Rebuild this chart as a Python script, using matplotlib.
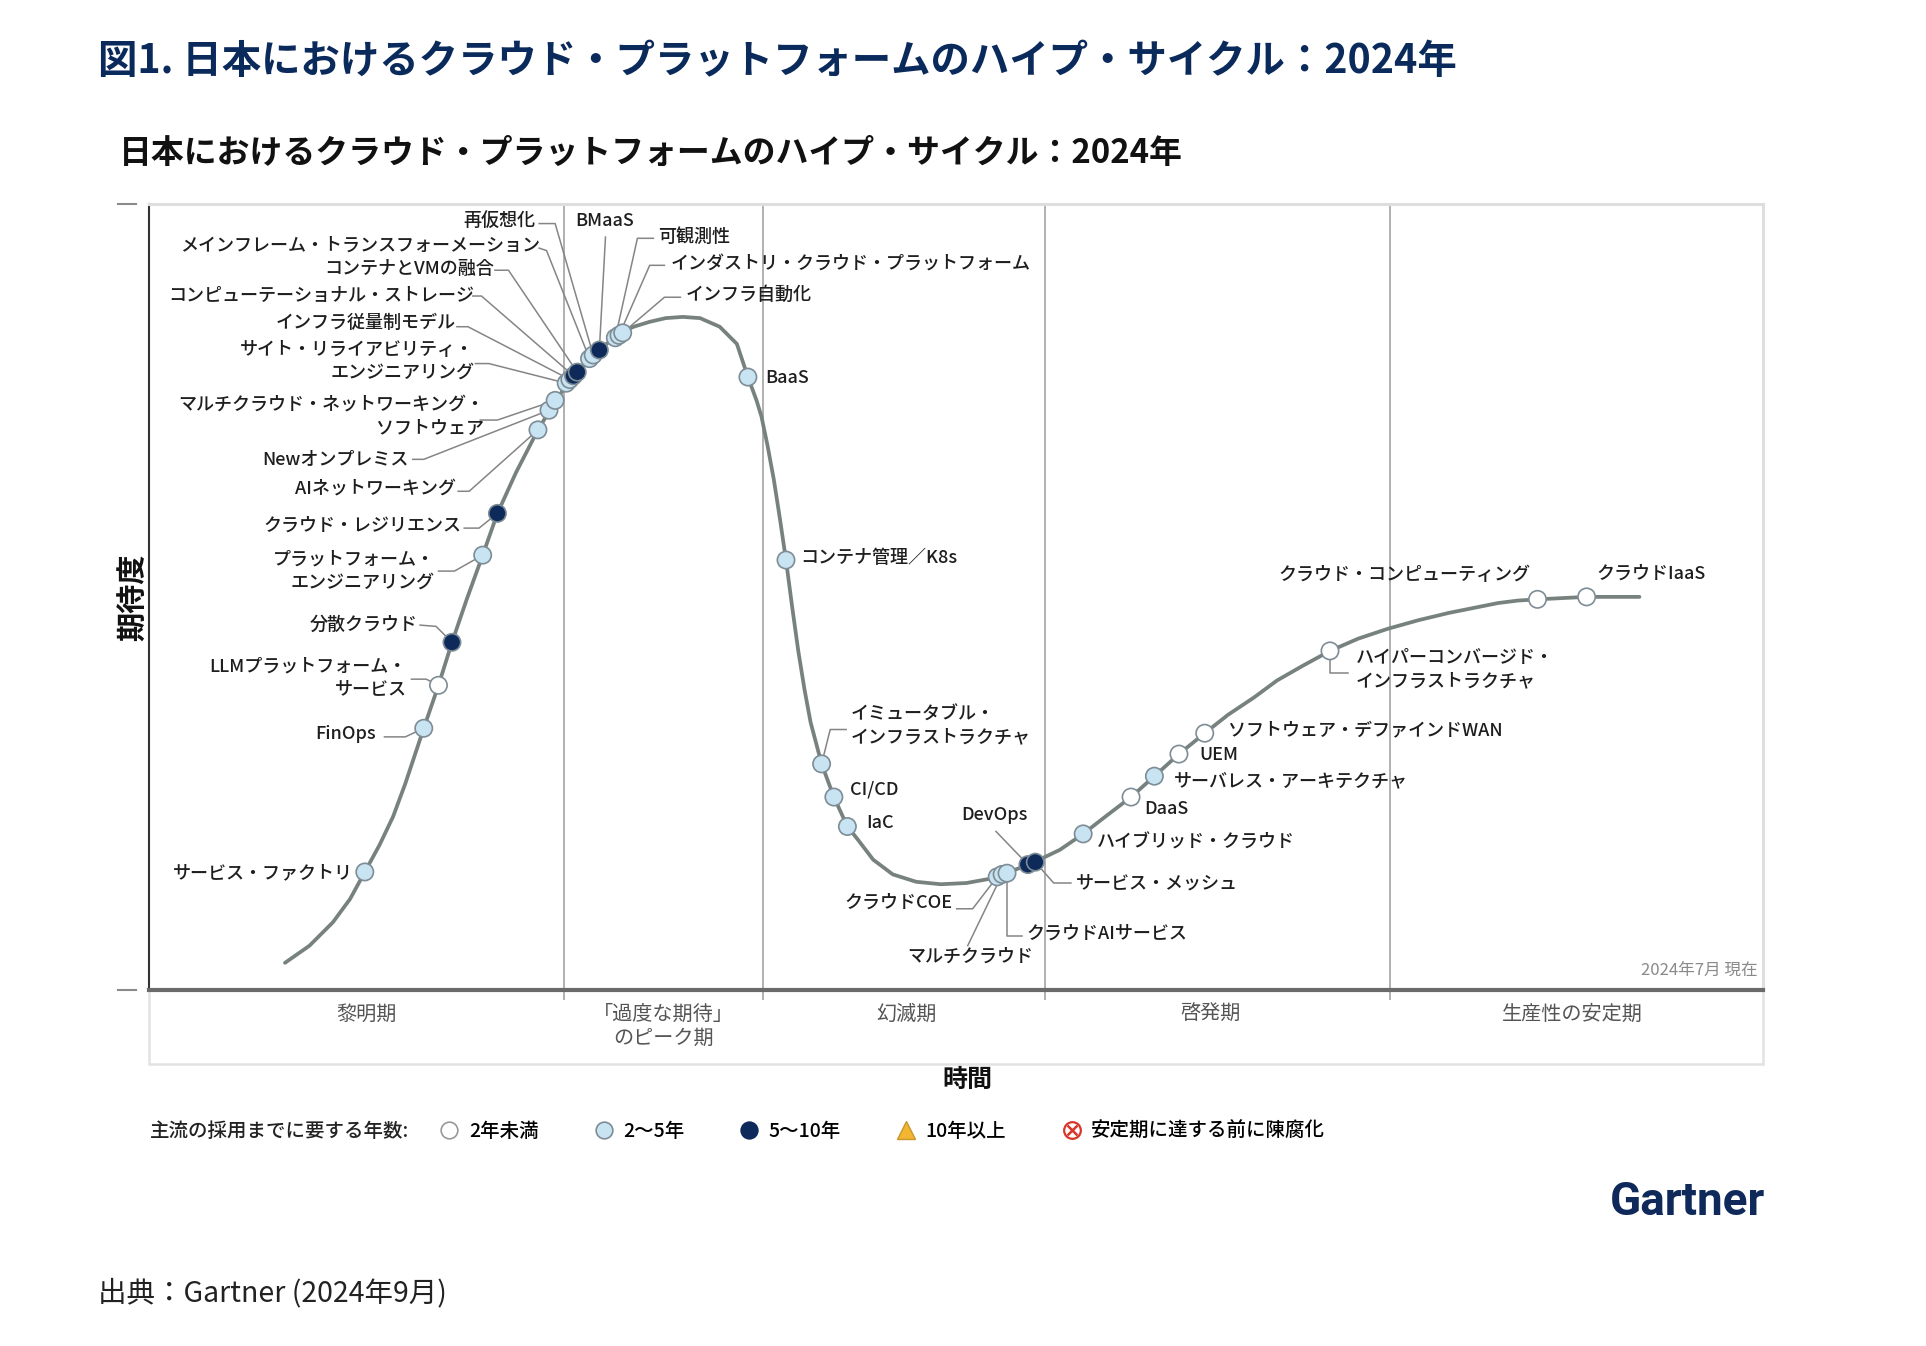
import matplotlib
matplotlib.use("Agg")
import matplotlib.pyplot as plt
from matplotlib.lines import Line2D
from matplotlib.patches import Rectangle

plt.rcParams['font.family'] = ['Noto Sans CJK JP', 'DejaVu Sans']

# hype curve: time vs expectation (arbitrary units)
curve_t = [111, 131, 150, 164, 176, 188, 199, 209, 224, 236, 247, 259, 272, 284, 299, 317,
           328, 341, 349, 362, 374, 386, 395, 408, 421, 435, 449, 465, 479, 488, 495, 499,
           504, 509, 514, 519, 524, 529, 534, 539, 548, 558, 569, 577, 590, 606, 625, 645,
           666, 688, 695, 717, 742, 761, 779, 800, 819, 839, 860, 879, 900, 919, 940, 962,
           985, 1009, 1034, 1059, 1079, 1099, 1115, 1131, 1151, 1171, 1214]
curve_e = [22, 36, 55, 74, 96, 118, 141, 168, 213, 248, 283, 318, 354, 388, 421, 456,
           474, 494, 503, 517, 527, 536, 540, 544, 547, 548, 547, 540, 526, 499, 480, 467,
           443, 416, 384, 350, 312, 276, 245, 218, 184, 157, 133, 123, 106, 94, 88, 86,
           87, 91, 94, 102, 114, 127, 141, 157, 174, 192, 209, 224, 238, 252, 264, 276,
           286, 294, 301, 307, 311, 315, 317, 318, 319, 320, 320]

# technologies on the curve
tech_names = [
    'サービス・ファクトリ', 'FinOps', 'LLMプラットフォーム・\nサービス', '分散クラウド',
    'プラットフォーム・\nエンジニアリング', 'クラウド・レジリエンス', 'AIネットワーキング',
    'Newオンプレミス', 'マルチクラウド・ネットワーキング・\nソフトウェア',
    'サイト・リライアビリティ・\nエンジニアリング', 'インフラ従量制モデル',
    'コンピューテーショナル・ストレージ', 'コンテナとVMの融合',
    'メインフレーム・トランスフォーメーション', '再仮想化', 'BMaaS', '可観測性',
    'インダストリ・クラウド・プラットフォーム', 'インフラ自動化', 'BaaS', 'コンテナ管理／K8s',
    'イミュータブル・\nインフラストラクチャ', 'CI/CD', 'IaC', 'クラウドCOE', 'マルチクラウド',
    'クラウドAIサービス', 'DevOps', 'サービス・メッシュ', 'ハイブリッド・クラウド', 'DaaS',
    'サーバレス・アーキテクチャ', 'UEM', 'ソフトウェア・デファインドWAN',
    'ハイパーコンバージド・\nインフラストラクチャ', 'クラウド・コンピューティング', 'クラウドIaaS',
]
tech_t = [176, 224, 236, 247, 272, 284, 317, 326, 331, 340, 343, 346, 349, 359, 362, 367, 380,
          383, 386, 488, 519, 548, 558, 569, 691, 695, 699, 716, 722, 761, 800, 819, 839, 860,
          962, 1131, 1171]
tech_e = [96, 213, 248, 283, 354, 388, 456, 472, 480, 494, 497, 500, 503, 514, 517, 521, 531,
          533, 535, 499, 350, 184, 157, 133, 92, 94, 95, 102, 104, 127, 157, 174, 192, 209,
          276, 318, 320]
tech_years = ['2-5', '2-5', '<2', '5-10', '2-5', '5-10', '2-5', '2-5', '2-5', '2-5', '2-5',
              '5-10', '5-10', '2-5', '2-5', '5-10', '2-5', '2-5', '2-5', '2-5', '2-5', '2-5',
              '2-5', '2-5', '2-5', '2-5', '2-5', '5-10', '5-10', '2-5', '<2', '2-5', '<2', '<2',
              '<2', '<2', '<2']

phase_names = ['黎明期', '「過度な期待」\nのピーク期', '幻滅期', '啓発期', '生産性の安定期']

legend_labels = ['2年未満', '2～5年', '5～10年', '10年以上', '安定期に達する前に陳腐化']

# layout of the labels: text anchor, alignment, leader start and elbow
label_pos = [(166, 95), (185, 208), (210, 254), (219, 297), (233, 341), (255, 378), (250, 408),
             (212, 432), (273, 467), (265, 512), (250, 543), (265, 565), (281, 587), (319, 606),
             (315, 626), (347, 626), (415, 613), (425, 591), (437, 566), (502, 498), (531, 352),
             (572, 215), (571, 163), (584, 136), (655, 71), (669, 27), (715, 46), (689, 142),
             (755, 87), (772, 120), (811, 147), (835, 170), (856, 191), (879, 211), (983, 261),
             (1125, 338), (1179, 339)]
label_ha = ['right'] * 15 + ['left'] * 9 + ['right', 'center', 'left', 'center'] + ['left'] * 7 + ['right', 'left']
leaders = [None, [(192, 206), (209, 206)], [(214, 253), (226, 253)], [(221, 297), (234, 296)],
           [(236, 341), (249, 341)], [(257, 376), (269, 376)], [(252, 406), (261, 406)],
           [(215, 432), (224, 432)], [(270, 464), (284, 464)], [(266, 510), (277, 510)],
           [(251, 540), (260, 540)], [(264, 565), (271, 565)], [(282, 586), (293, 586)],
           [(318, 604), (324, 602)], [(318, 624), (331, 624)], [(372, 613)],
           [(411, 612), (398, 612)], [(420, 590), (408, 590)], [(433, 564), (420, 564)],
           None, None, [(568, 212), (555, 212)], None, None,
           [(658, 66), (671, 66)], [(667, 36)], [(711, 44), (699, 44)], [(690, 129)],
           [(751, 87), (737, 87)], None, None, None, None, None,
           [(977, 258), (962, 258)], None, None]
phase_bounds = [338, 500, 730, 1011]
phase_centers = [177, 419, 617, 865, 1159]

fill = {'<2': 'white', '2-5': '#c8e3f2', '5-10': '#0d2a5a'}
edge = '#7d8c95'

fig = plt.figure(figsize=(19.26, 13.46), dpi=100)
ax = fig.add_axes([0.0772, 0.2646, 0.8384, 0.5839])
ax.set_xlim(0, 1315)
ax.set_ylim(0, 640)
ax.set_xticks([])
ax.set_yticks([])
for s in ['top', 'right']:
    ax.spines[s].set_color('#dedede')
    ax.spines[s].set_linewidth(2.2)
ax.spines['left'].set_color('#333333')
ax.spines['left'].set_linewidth(1.5)
ax.spines['bottom'].set_color('#6a6a6a')
ax.spines['bottom'].set_linewidth(3)

# box under the axis holding the phase names
ax.add_patch(Rectangle((0, -60), 1315, 60, fill=False, ec='#e2e2e2', lw=1.8, clip_on=False))
ax.vlines(phase_bounds, -8, 640, colors='#a3a3a3', lw=1.2, clip_on=False)
for x, name in zip(phase_centers, phase_names):
    ax.text(x, -11, name, ha='center', va='top', fontsize=14.5, color='#555555', linespacing=1.2)

# little dashes left of the axis
for yy in [0, 1]:
    ax.plot([-0.019, -0.008], [yy, yy], transform=ax.transAxes, color='#8a8a8a', lw=1.5, clip_on=False)

ax.plot(curve_t, curve_e, color='#77827f', lw=2.7, zorder=2, solid_capstyle='round',
        solid_joinstyle='round')

for i, ld in enumerate(leaders):
    if ld is None:
        continue
    xs = [p[0] for p in ld] + [tech_t[i]]
    ys = [p[1] for p in ld] + [tech_e[i]]
    ax.plot(xs, ys, color='#858585', lw=1.1, zorder=3)

ax.scatter(tech_t, tech_e, s=155, c=[fill[y] for y in tech_years], edgecolors=edge,
           linewidths=1.2, zorder=4)

for name, (lx, ly), ha in zip(tech_names, label_pos, label_ha):
    ax.text(lx, ly, name, ha=ha, va='center', multialignment=ha, fontsize=13,
            fontweight='medium', color='#1e1e1e', linespacing=1.35, zorder=5)

ax.text(1310, 16, '2024年7月 現在', ha='right', va='center', fontsize=12, color='#8a8a8a')

ax.set_ylabel('期待度', fontsize=21, fontweight='bold', color='#111111')
ax.yaxis.set_label_coords(0.0, 0.5)
ax.set_xlabel('時間', fontsize=18, fontweight='bold', color='#111111')
ax.xaxis.set_label_coords(0.507, -0.1)

fig.text(0.051, 0.954, '図1. 日本におけるクラウド・プラットフォームのハイプ・サイクル：2024年',
         fontsize=28.4, fontweight='bold', color='#0b2a5c', va='center')
fig.text(0.0619, 0.886, '日本におけるクラウド・プラットフォームのハイプ・サイクル：2024年',
         fontsize=23.7, fontweight='bold', color='#111111', va='center')

# legend
fig.text(0.0778, 0.1597, '主流の採用までに要する年数:', fontsize=14, fontweight='medium',
         color='#222222', va='center')
h1 = Line2D([], [], ls='', marker='o', ms=12, mfc='white', mec='#999999', mew=1.2)
h2 = Line2D([], [], ls='', marker='o', ms=12, mfc=fill['2-5'], mec=edge, mew=1.2)
h3 = Line2D([], [], ls='', marker='o', ms=12, mfc=fill['5-10'], mec=fill['5-10'], mew=1.2)
h4 = Line2D([], [], ls='', marker='^', ms=13, mfc='#f2b632', mec='#c8962a', mew=1.0)
h5a = Line2D([], [], ls='', marker='o', ms=12, mfc='white', mec='#d9362b', mew=1.6)
h5b = Line2D([], [], ls='', marker='x', ms=7, mec='#d9362b', mew=1.8)
fig.legend([h1, h2, h3, h4, (h5a, h5b)], legend_labels, ncol=5, loc='center left',
           bbox_to_anchor=(0.2283, 0.1597), frameon=False, fontsize=14, handlelength=1.0,
           handletextpad=0.5, columnspacing=2.85, borderpad=0, borderaxespad=0,
           prop={'size': 14, 'weight': 'medium'})

fig.text(0.9165, 0.107, 'Gartner', ha='right', va='center', fontsize=33, fontweight='bold',
         color='#0f2a5a', family=['Roboto', 'DejaVu Sans'])
fig.text(0.051, 0.0392, '出典：Gartner (2024年9月)', fontsize=20.5, color='#222222', va='center')

fig.savefig('out.png', dpi=100)
